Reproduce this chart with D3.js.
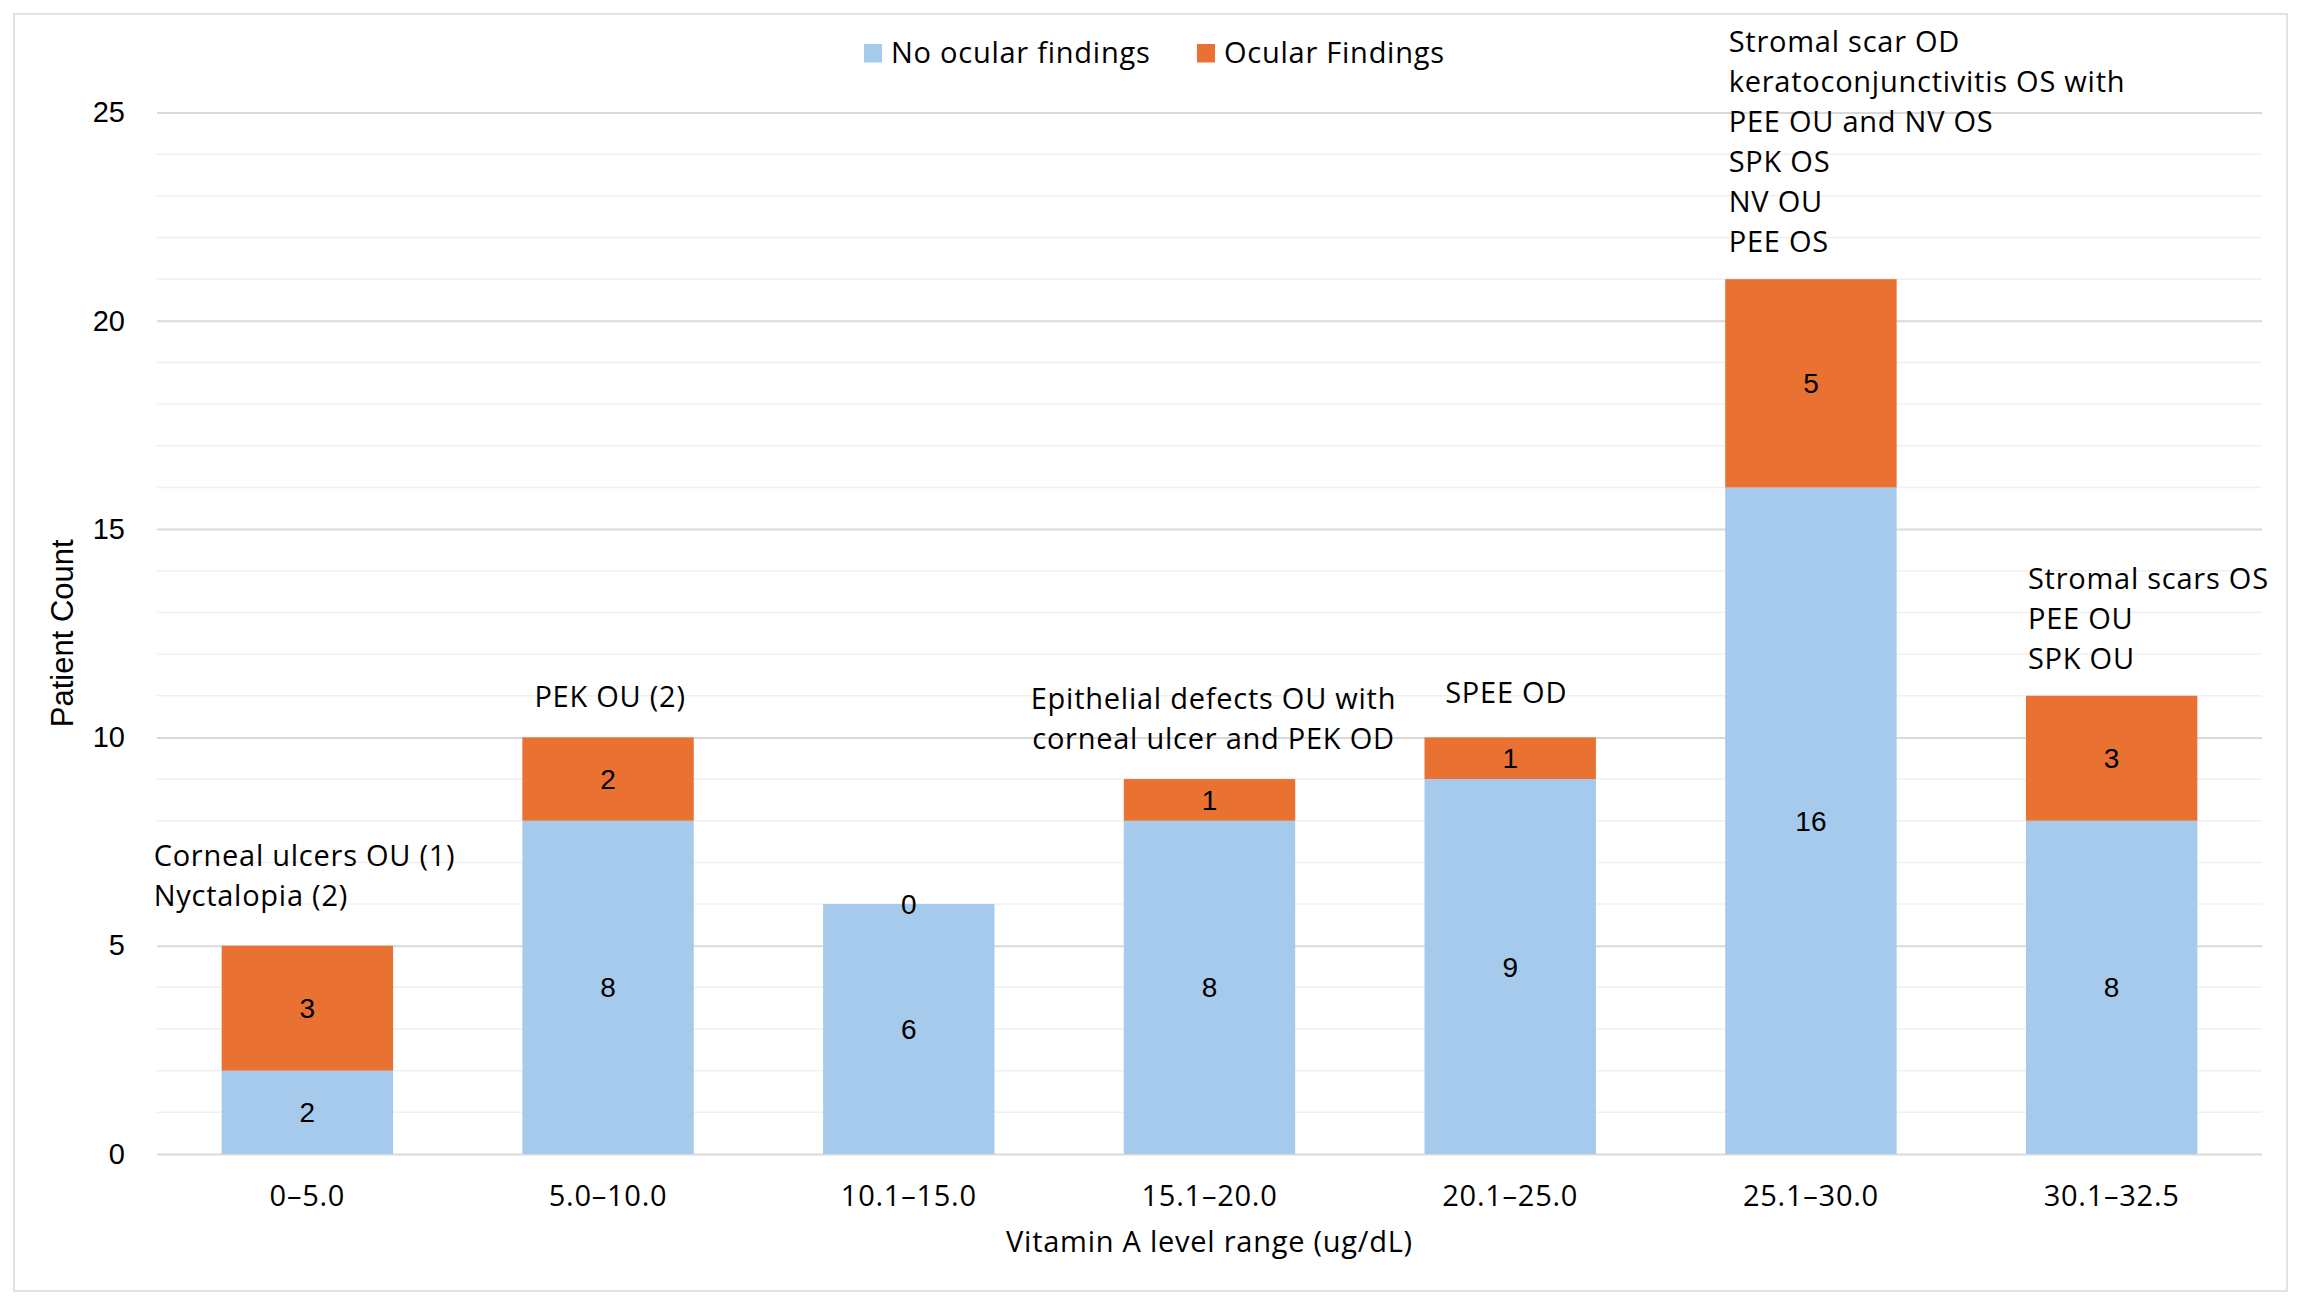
<!DOCTYPE html>
<html>
<head>
<meta charset="utf-8">
<script src="https://cdn.jsdelivr.net/npm/d3@7"></script>
<style>
  body { margin: 0; background: #fff; }
  .txt { font-family: "Open Sans", "Noto Sans", sans-serif; fill: #000; letter-spacing: 0.75px; }
  .num { font-family: "Liberation Sans", Arial, sans-serif; fill: #000; }
</style>
</head>
<body>
<div id="chart"></div>
<script>
// Dimensions
const width = 2300;
const height = 1303;
const plotLeft = 157;
const plotRight = 2262;
const plotTop = 112.5;
const plotBottom = 1154;
const textSize = 29;

// Data
const categories = ['0–5.0', '5.0–10.0', '10.1–15.0', '15.1–20.0', '20.1–25.0', '25.1–30.0', '30.1–32.5'];
const noFindings = [2, 8, 6, 8, 9, 16, 8];
const findings = [3, 2, 0, 1, 1, 5, 3];
const seriesNames = ['No ocular findings', 'Ocular Findings'];
const yTicks = [0, 5, 10, 15, 20, 25];
const notes = [
    ['Corneal ulcers OU (1)', 'Nyctalopia (2)'],
    ['PEK OU (2)'],
    [],
    ['Epithelial defects OU with', 'corneal ulcer and PEK OD'],
    ['SPEE OD'],
    ['Stromal scar OD', 'keratoconjunctivitis OS with', 'PEE OU and NV OS', 'SPK OS', 'NV OU', 'PEE OS'],
    ['Stromal scars OS', 'PEE OU', 'SPK OU']
];

// Colours
const colours = ['#A6CAEC', '#E97132'];

// Where each note box sits relative to its bar (anchor, x offset, gap above bar)
const noteLayout = [
    { anchor: 'start', from: 'left', dx: -68, gap: 40 },
    { anchor: 'middle', from: 'center', dx: 2, gap: 30 },
    null,
    { anchor: 'middle', from: 'center', dx: 4, gap: 30 },
    { anchor: 'middle', from: 'center', dx: -4, gap: 34 },
    { anchor: 'start', from: 'left', dx: 3.5, gap: 27.5 },
    { anchor: 'start', from: 'left', dx: 2, gap: 26.5 }
];
const lineHeight = 40;

const rows = categories.map((c, i) => ({ cat: c, no: noFindings[i], yes: findings[i] }));
const stacked = d3.stack().keys(['no', 'yes'])(rows);

const svg = d3.select('#chart').append('svg')
    .attr('width', width)
    .attr('height', height);

svg.append('rect')
    .attr('width', width).attr('height', height)
    .attr('fill', '#fff');

// Chart border
svg.append('rect')
    .attr('x', 14).attr('y', 14)
    .attr('width', 2273).attr('height', 1277)
    .attr('fill', 'none')
    .attr('stroke', '#d9d9d9')
    .attr('stroke-width', 1.5);

const x = d3.scaleBand()
    .domain(categories)
    .range([plotLeft, plotRight])
    .paddingInner(0.43)
    .paddingOuter(0.215);

const y = d3.scaleLinear()
    .domain([0, 25])
    .range([plotBottom, plotTop]);

// Minor gridlines every 1
svg.append('g')
    .selectAll('line')
    .data(y.ticks(25).filter(d => d % 5 !== 0))
    .join('line')
    .attr('x1', plotLeft).attr('x2', plotRight)
    .attr('y1', d => y(d)).attr('y2', d => y(d))
    .attr('stroke', '#f0f0f0')
    .attr('stroke-width', 1.5);

// Major gridlines and y tick labels
const yAxis = d3.axisLeft(y)
    .tickValues(yTicks)
    .tickSize(-(plotRight - plotLeft))
    .tickPadding(32)
    .tickFormat(d3.format('d'));

const yAxisG = svg.append('g')
    .attr('transform', `translate(${plotLeft},0)`)
    .call(yAxis);
yAxisG.select('.domain').remove();
yAxisG.selectAll('.tick line')
    .attr('stroke', '#d9d9d9')
    .attr('stroke-width', 2);
yAxisG.selectAll('.tick text')
    .attr('class', 'num')
    .attr('font-size', 29)
    .attr('fill', '#000');

// Bars
svg.append('g')
    .selectAll('g')
    .data(stacked)
    .join('g')
    .attr('fill', (d, i) => colours[i])
    .selectAll('rect')
    .data(d => d)
    .join('rect')
    .attr('x', d => x(d.data.cat))
    .attr('width', x.bandwidth())
    .attr('y', d => y(d[1]))
    .attr('height', d => y(d[0]) - y(d[1]));

// Data labels centred in each segment
svg.append('g')
    .selectAll('g')
    .data(stacked)
    .join('g')
    .selectAll('text')
    .data(d => d)
    .join('text')
    .attr('class', 'num')
    .attr('font-size', 28)
    .attr('text-anchor', 'middle')
    .attr('x', d => x(d.data.cat) + x.bandwidth() / 2)
    .attr('y', d => (y(d[0]) + y(d[1])) / 2 + 10)
    .text(d => d[1] - d[0]);

// X axis labels
const xAxis = d3.axisBottom(x)
    .tickSize(0)
    .tickPadding(0);
const xAxisG = svg.append('g')
    .attr('transform', `translate(0,${plotBottom})`)
    .call(xAxis);
xAxisG.select('.domain').remove();
xAxisG.selectAll('.tick text')
    .attr('class', 'txt')
    .attr('font-size', textSize)
    .attr('fill', '#000')
    .attr('dy', null)
    .attr('y', 52);

// Axis titles
svg.append('text')
    .attr('class', 'txt')
    .attr('font-size', textSize)
    .attr('text-anchor', 'middle')
    .attr('x', (plotLeft + plotRight) / 2)
    .attr('y', 1252)
    .text('Vitamin A level range (ug/dL)');

svg.append('text')
    .attr('class', 'num')
    .attr('font-size', 31)
    .attr('text-anchor', 'middle')
    .attr('transform', `translate(73,${(plotTop + plotBottom) / 2}) rotate(-90)`)
    .text('Patient Count');

// Legend
const legendItems = [
    { name: seriesNames[0], colour: colours[0], x: 864 },
    { name: seriesNames[1], colour: colours[1], x: 1197 }
];
const legend = svg.append('g')
    .selectAll('g')
    .data(legendItems)
    .join('g')
    .attr('transform', d => `translate(${d.x},44)`);
legend.append('rect')
    .attr('width', 18).attr('height', 18.5)
    .attr('fill', d => d.colour);
legend.append('text')
    .attr('class', 'txt')
    .attr('font-size', textSize)
    .attr('x', 27)
    .attr('y', 18.7)
    .text(d => d.name);

// Notes above bars
notes.forEach((lines, i) => {
    const layout = noteLayout[i];
    if (!layout || !lines.length) return;
    const cat = categories[i];
    const top = y(noFindings[i] + findings[i]);
    const baseX = layout.from === 'left' ? x(cat) : x(cat) + x.bandwidth() / 2;
    const lastBase = top - layout.gap;
    svg.append('text')
        .attr('class', 'txt')
        .attr('font-size', textSize)
        .attr('text-anchor', layout.anchor)
        .selectAll('tspan')
        .data(lines)
        .join('tspan')
        .attr('x', baseX + layout.dx)
        .attr('y', (d, j) => lastBase - (lines.length - 1 - j) * lineHeight)
        .text(d => d);
});
</script>
</body>
</html>
